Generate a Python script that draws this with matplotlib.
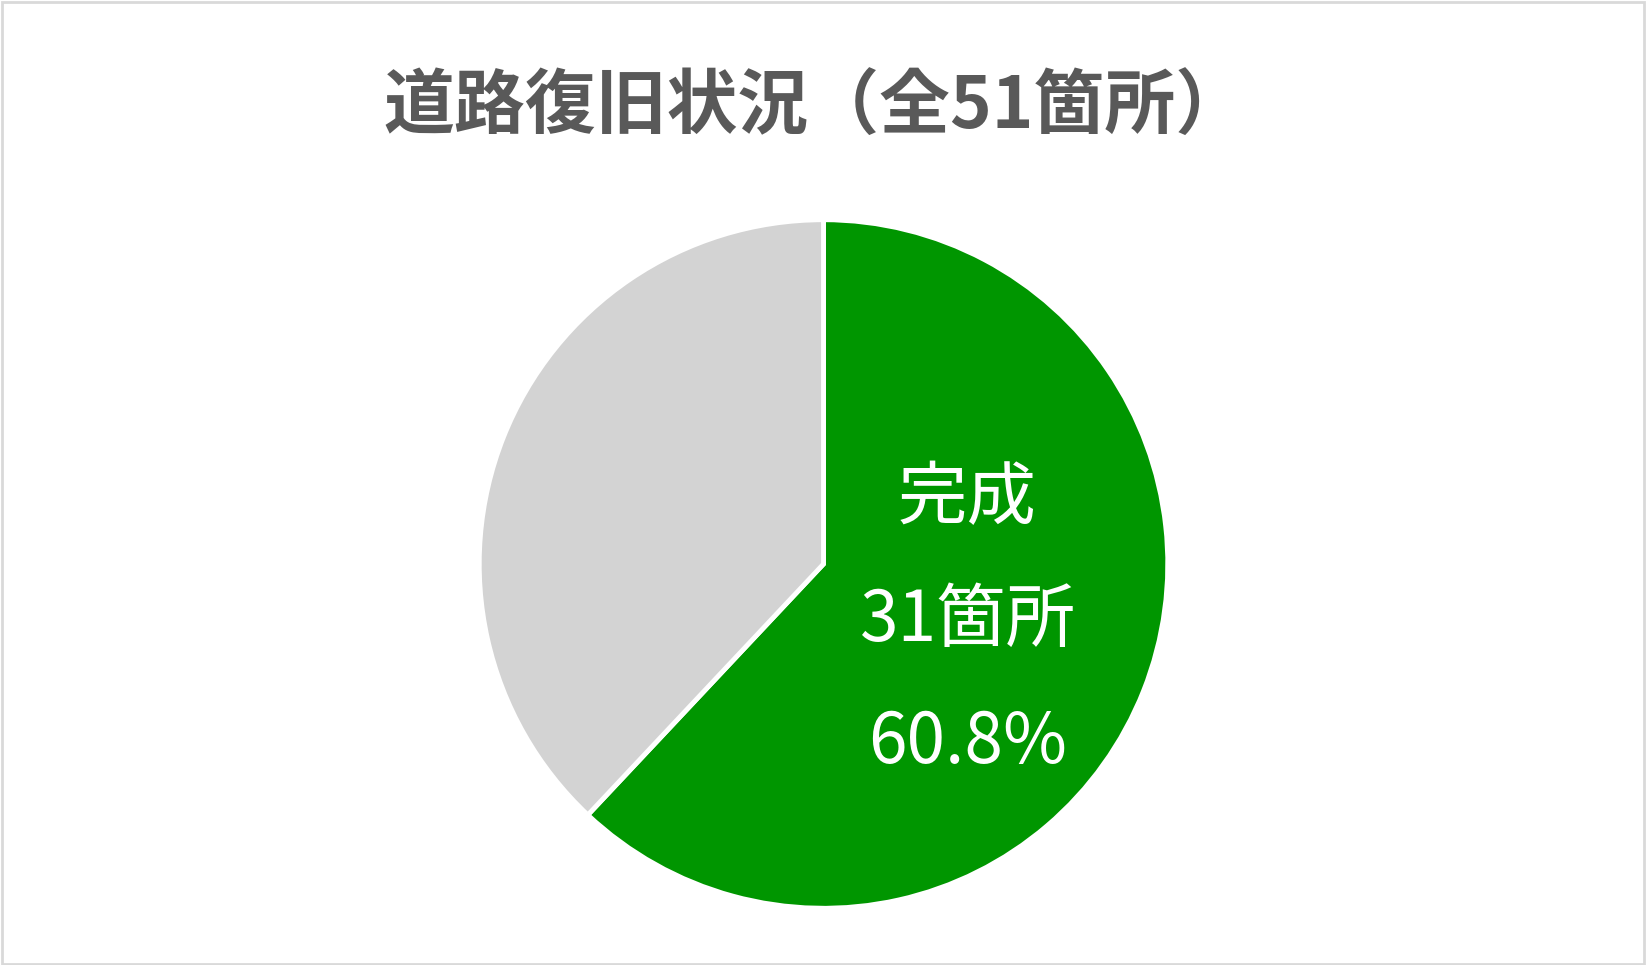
import numpy as np
import matplotlib.pyplot as plt

plt.rcParams['font.family'] = ['Noto Sans CJK JP', 'DejaVu Sans']

# data
categories = ['完成', '未完成']
counts = [31, 19]
total_sites = 51
colors = ['#009600', '#D3D3D3']
title = '道路復旧状況（全51箇所）'

W, H = 1646, 965
fig = plt.figure(figsize=(W / 100, H / 100), dpi=100)

# light frame around the chart area
fig.patches.append(plt.Rectangle((0.001, 0.001), 0.998, 0.997, transform=fig.transFigure,
                                 fill=False, edgecolor='#D9D9D9', linewidth=2))

cx, cy, r = 823.5, 401, 346
ax = fig.add_axes([(cx - r) / W, (cy - r) / H, 2 * r / W, 2 * r / H])
wedges, _ = ax.pie(counts, colors=colors, startangle=90, counterclock=False,
                   wedgeprops=dict(edgecolor='white', linewidth=3.5))
ax.set_xlim(-1.005, 1.005)
ax.set_ylim(-1.005, 1.005)
ax.set_aspect('equal')
ax.axis('off')

# label for the completed slice
w = wedges[0]
mid = np.deg2rad((w.theta1 + w.theta2) / 2)
lx, ly = 0.45 * np.cos(mid), 0.45 * np.sin(mid)
pct = counts[0] / total_sites * 100
lines = [categories[0], f'{counts[0]}箇所', f'{pct:.1f}%']
for i, s in enumerate(lines):
    ax.text(lx, ly + (1 - i) * 0.355, s, color='white', fontsize=50,
            ha='center', va='center')

fig.text(0.495, 0.8895, title, ha='center', va='center', fontsize=51,
         fontweight='bold', color='#595959')

fig.savefig('out.png', dpi=100, facecolor='white')
